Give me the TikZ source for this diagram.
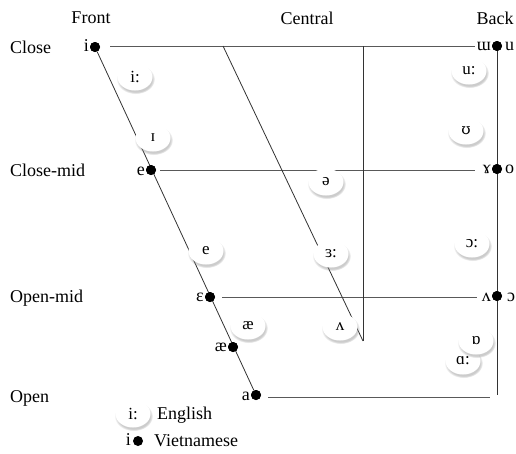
\documentclass[tikz,border=0pt]{standalone}
\usepackage{fontspec}
\setmainfont{Liberation Serif}
\newfontfamily\ipaalt{DejaVu Serif}
\usetikzlibrary{shapes.geometric,shadows,fadings}
\begin{document}
\begin{tikzpicture}[x=1pt,y=-1pt,
  lbl/.style={font=\fontsize{18}{20}\selectfont, inner sep=0pt},
  sym/.style={font=\fontsize{18}{20}\selectfont, inner sep=0pt},
  vdot/.style={circle, fill=black, minimum size=10pt, inner sep=0pt},
  eng/.style={ellipse, fill=white, minimum width=35pt, minimum height=27pt, inner sep=0pt,
     font=\fontsize{17}{19}\selectfont,
     circular drop shadow={shadow xshift=0.6pt, shadow yshift=-2pt, shadow scale=1.1, opacity=0.4}},
  gline/.style={draw=black!65, line width=0.9pt},
  dline/.style={draw=black!80, line width=0.8pt}]
\useasboundingbox (0,0) rectangle (516,453);
% column headers
\node[lbl] (hfront) at (91,18) {Front};
\node[lbl] (hcentral) at (307,18) {Central};
\node[lbl] (hback) at (495,18) {Back};
% row labels
\node[lbl,anchor=west] (rclose) at (10,47) {Close};
\node[lbl,anchor=west] (rclosemid) at (10,170) {Close-mid};
\node[lbl,anchor=west] (ropenmid) at (10,298) {Open-mid};
\node[lbl,anchor=west] (ropen) at (10,398) {Open};
% Vietnamese dots (front)
\node[vdot] (di) at (95,47) {};
\node[vdot] (de) at (151,170) {};
\node[vdot] (deps) at (210,297) {};
\node[vdot] (dae) at (233,347) {};
\node[vdot] (da) at (256,395) {};
% back dots
\node[vdot] (du) at (497,46) {};
\node[vdot] (do) at (497,169) {};
\node[vdot] (dov) at (497,296) {};
% dot labels
\node[sym,anchor=east] (ti) at (89,46) {i};
\node[sym,anchor=east] (te) at (145,171) {e};
\node[sym,anchor=east] (teps) at (204,297) {ɛ};
\node[sym,anchor=east] (tae) at (227,347) {æ};
\node[sym,anchor=east] (ta) at (250,396) {a};
\node[sym,anchor=east] (tuu) at (491,46) {ɯ};
\node[sym,anchor=west] (tu) at (505,46) {u};
\node[sym,anchor=east] (tgam) at (491,169) {ɤ};
\node[sym,anchor=west] (to) at (505,169) {o};
\node[sym,anchor=east] (tlam) at (491,297) {ʌ};
\node[sym,anchor=west] (too) at (507,297) {ɔ};
% coordinates for lines
\coordinate (c1a) at (110,46);
\coordinate (c1b) at (475,46);
\coordinate (c2a) at (160,170);
\coordinate (c2b) at (475,170);
\coordinate (c3a) at (222,297);
\coordinate (c3b) at (477,297);
\coordinate (c4a) at (268,397);
\coordinate (c4b) at (490,397);
\coordinate (ctop) at (363,46);
\coordinate (cbot) at (363,341);
\coordinate (dtop) at (223,46);
\coordinate (bbot) at (497,395);
% lines
\draw[gline] (c1a) -- (c1b);
\draw[gline] (c2a) -- (c2b);
\draw[gline] (c3a) -- (c3b);
\draw[gline] (c4a) -- (c4b);
\draw[dline] (di) -- (da);
\draw[dline] (dtop) -- (cbot);
\draw[dline] (ctop) -- (cbot);
\draw[dline] (du) -- (bbot);
% redraw dots on top
\foreach \n in {di,de,deps,dae,da,du,do,dov} \fill (\n) circle (5pt);
% English vowels
\node[eng] (ei) at (135,77) {i:};
\node[eng] (eI) at (153,138) {ɪ};
\node[eng] (ee) at (206,251) {e};
\node[eng] (eae) at (248,326) {æ};
\node[eng] (eschwa) at (326,182) {ə};
\node[eng] (eer) at (331,254) {ɜ:};
\node[eng] (elam) at (340,327) {ʌ};
\node[eng] (euu) at (469,71) {u:};
\node[eng] (eU) at (466,131) {\ipaalt\fontsize{15}{17}\selectfont ʊ};
\node[eng] (eoo) at (472,244) {ɔ:};
\node[eng] (ea) at (463,361) {ɑ:};
\node[eng] (eo) at (476,341) {ɒ};
% legend
\node[eng] (legE) at (133,414) {i:};
\node[lbl,anchor=west] (legEt) at (157,415) {English};
\node[sym,anchor=east] (legVi) at (131,440) {i};
\node[vdot] (legVd) at (138,441) {};
\node[lbl,anchor=west] (legVt) at (154,441) {Vietnamese};
\end{tikzpicture}
\end{document}
